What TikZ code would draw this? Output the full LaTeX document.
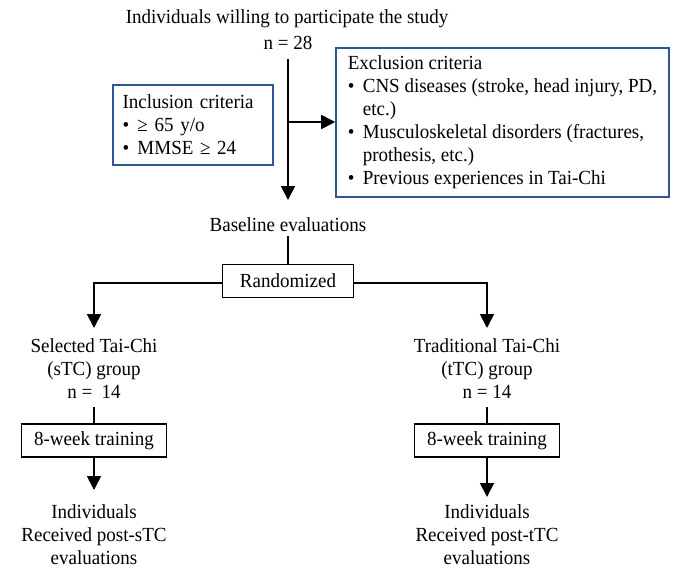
\documentclass[tikz,border=0pt]{standalone}
\usepackage{fontspec}
\setmainfont[FakeStretch=0.95]{Liberation Serif}
\usetikzlibrary{arrows.meta}
\definecolor{boxblue}{RGB}{47,85,151}
\newcommand{\bul}{\makebox[15pt][l]{•}}
\newcommand{\ind}{\hspace*{15pt}}
\begin{document}
\begin{tikzpicture}[x=1pt,y=-1pt,
  every node/.style={font=\fontsize{20}{23}\selectfont, inner sep=0pt},
  lbl/.style={align=center},
  blackbox/.style={draw=black, line width=1.3pt, minimum height=33pt},
  bluebox/.style={draw=boxblue, line width=1.6pt, align=left},
  conn/.style={line width=1.8pt},
  arr/.style={conn, -{Triangle[width=14pt,length=14pt]}}]
\useasboundingbox (0,0) rectangle (682,568);
% top
\node[lbl] (title) at (287,19) {Individuals willing to participate the study};
\node[lbl] (n28) at (288,43) {n = 28};
\coordinate (mtop) at (288,59);
\coordinate (mmid) at (288,122);
\coordinate (mend) at (288,200);
\node[bluebox, text width=141pt, inner xsep=9.5pt, minimum height=80pt] (incl) at (193,125)
  {Inclusion criteria\\ \bul ≥ 65 y/o\\ \bul MMSE ≥ 24};
\node[bluebox, minimum width=333pt, minimum height=149pt] (excl) at (502.5,122.5)
  {Exclusion criteria\\
   \bul CNS diseases (stroke, head injury, PD,\\
   \ind etc.)\\
   \bul Musculoskeletal disorders (fractures,\\
   \ind prothesis, etc.)\\
   \bul Previous experiences in Tai-Chi};
\draw[arr] (mtop) -- (mend);
\draw[arr] (mmid) -- (excl.west|-mmid);
% baseline and randomization
\node[lbl] (base) at (288,225) {Baseline evaluations};
\node[blackbox, minimum width=131pt] (rand) at (288,281) {Randomized};
\draw[conn] ([yshift=-4pt]base.south) -- (rand.north);
\coordinate (ltip) at (94,328);
\coordinate (rtip) at (487,328);
\draw[arr] ([yshift=-2pt]rand.west) -| (ltip);
\draw[arr] ([yshift=-2pt]rand.east) -| (rtip);
% groups
\node[lbl] (sg) at (94,369) {Selected Tai-Chi\\(sTC) group\\n =~~14};
\node[lbl] (tg) at (487,369) {Traditional Tai-Chi\\(tTC) group\\n = 14};
\node[blackbox, minimum width=145pt] (ltrain) at (94,440.5) {8-week training};
\node[blackbox, minimum width=145pt] (rtrain) at (487,440.5) {8-week training};
\draw[conn] ([yshift=-8pt]sg.south) -- (ltrain.north);
\draw[conn] ([yshift=-8pt]tg.south) -- (rtrain.north);
\coordinate (lend) at (94,490);
\coordinate (rend) at (487,497);
\draw[arr] (ltrain.south) -- (lend);
\draw[arr] (rtrain.south) -- (rend);
\node[lbl] (lres) at (94,535) {Individuals\\Received post-sTC\\evaluations};
\node[lbl] (rres) at (487,535) {Individuals\\Received post-tTC\\evaluations};
\end{tikzpicture}
\end{document}
